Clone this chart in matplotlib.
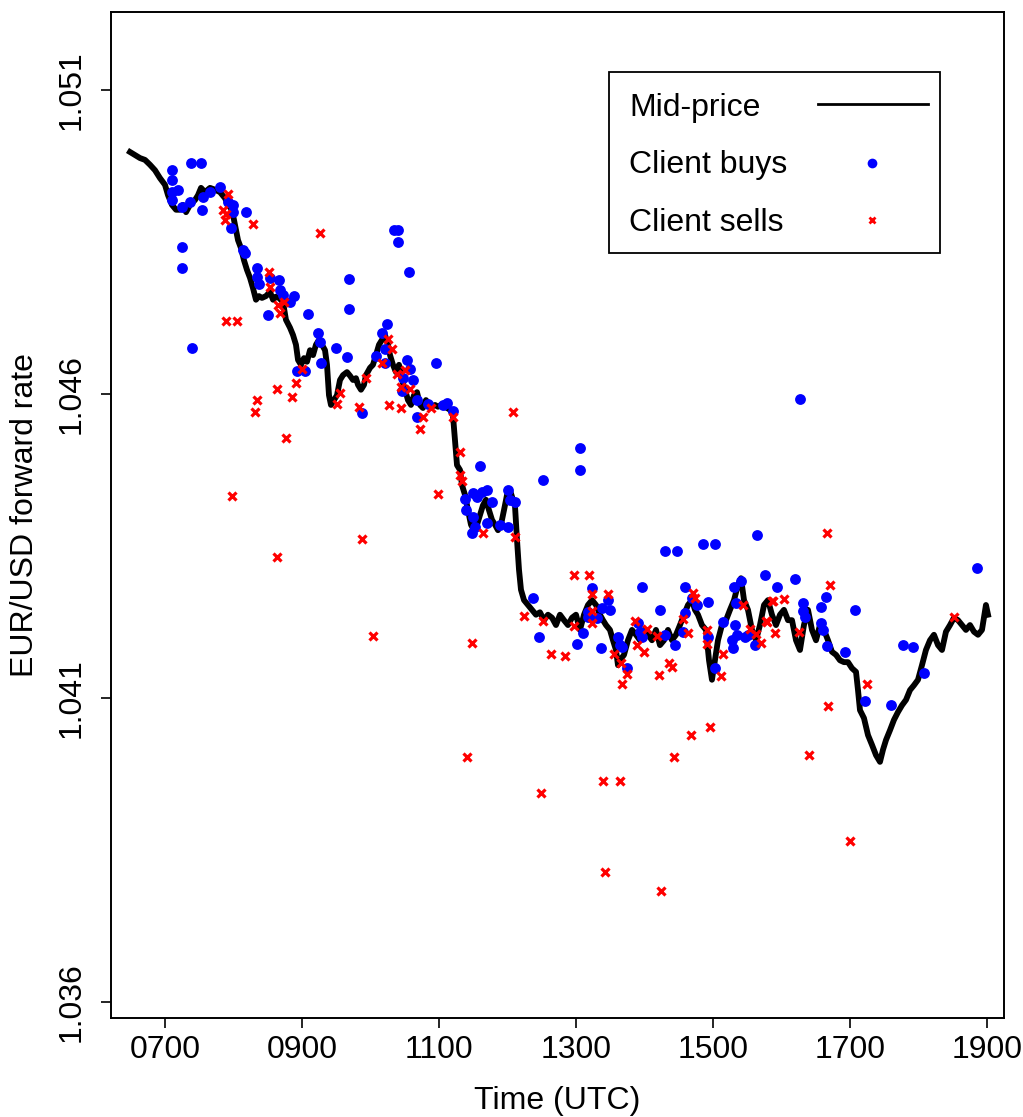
import matplotlib
matplotlib.use('Agg')
import matplotlib.pyplot as plt
from matplotlib.patches import Rectangle

plt.rcParams['font.family'] = ['Liberation Sans', 'DejaVu Sans']

# Mid-price path (time in decimal hours UTC, EUR/USD forward rate)
mid_time = [6.489, 6.562, 6.635, 6.708, 6.781, 6.854, 6.927, 7.000, 7.044, 7.102,
            7.161, 7.219, 7.263, 7.307, 7.365, 7.438, 7.482, 7.526, 7.584, 7.657,
            7.730, 7.803, 7.876, 7.920, 7.978, 8.022, 8.066, 8.109, 8.153, 8.197,
            8.241, 8.285, 8.328, 8.372, 8.416, 8.474, 8.533, 8.577, 8.620, 8.664,
            8.723, 8.766, 8.825, 8.869, 8.912, 8.942, 8.985, 9.029, 9.073, 9.117,
            9.161, 9.204, 9.248, 9.292, 9.336, 9.365, 9.394, 9.423, 9.467, 9.511,
            9.555, 9.599, 9.657, 9.701, 9.745, 9.788, 9.818, 9.861, 9.905, 9.934,
            9.993, 10.036, 10.080, 10.124, 10.168, 10.212, 10.255, 10.285, 10.328, 10.372,
            10.416, 10.460, 10.504, 10.547, 10.591, 10.635, 10.679, 10.723, 10.766, 10.810,
            10.854, 10.898, 10.942, 10.985, 11.029, 11.073, 11.117, 11.161, 11.204, 11.234,
            11.263, 11.307, 11.336, 11.380, 11.423, 11.467, 11.511, 11.555, 11.599, 11.642,
            11.686, 11.730, 11.774, 11.818, 11.861, 11.905, 11.949, 11.993, 12.036, 12.080,
            12.109, 12.139, 12.168, 12.197, 12.241, 12.299, 12.358, 12.416, 12.474, 12.533,
            12.591, 12.650, 12.708, 12.766, 12.825, 12.883, 12.942, 13.000, 13.058, 13.117,
            13.175, 13.234, 13.292, 13.350, 13.394, 13.438, 13.496, 13.540, 13.584, 13.613,
            13.642, 13.701, 13.759, 13.818, 13.876, 13.934, 13.993, 14.051, 14.109, 14.168,
            14.226, 14.285, 14.343, 14.401, 14.460, 14.518, 14.577, 14.635, 14.693, 14.737,
            14.781, 14.839, 14.898, 14.942, 14.985, 15.029, 15.073, 15.131, 15.190, 15.248,
            15.307, 15.365, 15.409, 15.453, 15.511, 15.569, 15.628, 15.686, 15.745, 15.803,
            15.861, 15.920, 15.978, 16.036, 16.095, 16.153, 16.212, 16.270, 16.328, 16.387,
            16.445, 16.504, 16.562, 16.620, 16.679, 16.737, 16.796, 16.854, 16.912, 16.971,
            17.029, 17.088, 17.117, 17.146, 17.204, 17.263, 17.321, 17.380, 17.438, 17.482,
            17.526, 17.584, 17.642, 17.701, 17.759, 17.818, 17.876, 17.934, 17.993, 18.051,
            18.109, 18.168, 18.226, 18.285, 18.343, 18.401, 18.460, 18.518, 18.577, 18.635,
            18.693, 18.752, 18.810, 18.869, 18.927, 18.985, 19.015]
mid_rate = [1.04998, 1.04993, 1.04988, 1.04985, 1.04977, 1.04968, 1.04955, 1.04944, 1.04927, 1.04911,
            1.04903, 1.04903, 1.04911, 1.04899, 1.04911, 1.04919, 1.04927, 1.04939, 1.04932, 1.04939,
            1.04936, 1.04932, 1.04922, 1.04911, 1.04903, 1.04878, 1.04853, 1.04840, 1.04820, 1.04804,
            1.04791, 1.04774, 1.04755, 1.04761, 1.04758, 1.04761, 1.04768, 1.04755, 1.04760, 1.04758,
            1.04751, 1.04722, 1.04709, 1.04697, 1.04681, 1.04656, 1.04648, 1.04659, 1.04653, 1.04672,
            1.04664, 1.04681, 1.04689, 1.04681, 1.04672, 1.04648, 1.04598, 1.04582, 1.04590, 1.04598,
            1.04623, 1.04631, 1.04636, 1.04630, 1.04623, 1.04626, 1.04615, 1.04607, 1.04615, 1.04631,
            1.04643, 1.04648, 1.04664, 1.04681, 1.04689, 1.04697, 1.04681, 1.04664, 1.04648, 1.04636,
            1.04648, 1.04623, 1.04607, 1.04590, 1.04582, 1.04598, 1.04603, 1.04582, 1.04577, 1.04590,
            1.04582, 1.04579, 1.04582, 1.04579, 1.04582, 1.04579, 1.04577, 1.04574, 1.04565, 1.04524,
            1.04483, 1.04475, 1.04450, 1.04434, 1.04409, 1.04385, 1.04376, 1.04385, 1.04401, 1.04417,
            1.04426, 1.04409, 1.04393, 1.04385, 1.04376, 1.04385, 1.04409, 1.04434, 1.04442, 1.04426,
            1.04417, 1.04360, 1.04311, 1.04278, 1.04261, 1.04253, 1.04245, 1.04237, 1.04241, 1.04228,
            1.04237, 1.04232, 1.04220, 1.04237, 1.04228, 1.04220, 1.04232, 1.04237, 1.04212, 1.04237,
            1.04253, 1.04261, 1.04253, 1.04237, 1.04228, 1.04220, 1.04212, 1.04195, 1.04179, 1.04154,
            1.04162, 1.04171, 1.04195, 1.04212, 1.04204, 1.04195, 1.04212, 1.04204, 1.04195, 1.04212,
            1.04187, 1.04195, 1.04212, 1.04195, 1.04204, 1.04220, 1.04237, 1.04253, 1.04261, 1.04245,
            1.04237, 1.04220, 1.04212, 1.04162, 1.04130, 1.04162, 1.04195, 1.04220, 1.04228, 1.04245,
            1.04261, 1.04286, 1.04297, 1.04261, 1.04245, 1.04212, 1.04195, 1.04220, 1.04253, 1.04261,
            1.04237, 1.04220, 1.04237, 1.04245, 1.04228, 1.04228, 1.04195, 1.04179, 1.04220, 1.04245,
            1.04212, 1.04195, 1.04220, 1.04212, 1.04195, 1.04176, 1.04171, 1.04162, 1.04159, 1.04159,
            1.04149, 1.04143, 1.04113, 1.04080, 1.04067, 1.04039, 1.04023, 1.04006, 1.03995, 1.04015,
            1.04031, 1.04047, 1.04064, 1.04077, 1.04088, 1.04097, 1.04113, 1.04121, 1.04130, 1.04154,
            1.04179, 1.04195, 1.04204, 1.04187, 1.04179, 1.04209, 1.04220, 1.04232, 1.04228, 1.04220,
            1.04212, 1.04220, 1.04209, 1.04204, 1.04212, 1.04253, 1.04237]

# Client buys
buy_time = [7.102, 7.102, 7.102, 7.190, 7.102, 7.248, 7.365, 7.555, 7.657, 7.803,
            7.540, 7.920, 7.993, 7.993, 8.182, 7.964, 8.139, 8.168, 7.248, 7.248,
            7.394, 7.380, 7.526, 8.343, 8.343, 8.372, 8.533, 8.664, 8.679, 8.723,
            8.825, 8.883, 9.088, 8.504, 9.234, 9.263, 9.496, 9.657, 9.686, 9.686,
            9.277, 8.927, 9.044, 10.343, 10.401, 10.401, 10.562, 10.241, 10.168, 10.212,
            10.080, 10.212, 10.533, 10.577, 10.620, 10.460, 10.474, 10.679, 10.679, 10.839,
            11.058, 11.117, 11.204, 10.956, 9.876, 11.599, 12.518, 13.058, 13.058, 11.380,
            11.394, 11.496, 11.555, 11.628, 11.701, 11.774, 11.496, 11.526, 11.482, 11.701,
            11.891, 12.007, 12.007, 12.036, 12.109, 12.372, 12.460, 13.234, 13.175, 13.175,
            13.307, 13.380, 13.467, 13.496, 13.102, 13.015, 13.365, 13.613, 13.642, 13.672,
            13.745, 13.905, 13.934, 13.964, 13.964, 14.226, 14.299, 14.445, 14.299, 14.474,
            14.854, 15.029, 15.642, 14.591, 14.591, 14.562, 14.693, 14.766, 14.927, 14.927,
            15.029, 15.146, 15.321, 15.350, 15.277, 15.292, 15.336, 15.307, 15.409, 15.467,
            15.511, 15.613, 15.759, 15.934, 16.197, 16.314, 16.314, 16.343, 16.577, 16.650,
            16.577, 16.606, 16.664, 16.927, 17.073, 17.219, 17.599, 17.774, 17.920, 18.080,
            18.854, 16.270]
buy_rate = [1.04968, 1.04952, 1.04932, 1.04936, 1.04919, 1.04908, 1.04916, 1.04924, 1.04932, 1.04940,
            1.04903, 1.04916, 1.04911, 1.04899, 1.04899, 1.04873, 1.04837, 1.04832, 1.04842, 1.04807,
            1.04676, 1.04980, 1.04980, 1.04807, 1.04792, 1.04781, 1.04791, 1.04788, 1.04771, 1.04763,
            1.04751, 1.04761, 1.04732, 1.04730, 1.04700, 1.04686, 1.04676, 1.04661, 1.04789, 1.04740,
            1.04651, 1.04638, 1.04638, 1.04870, 1.04870, 1.04850, 1.04801, 1.04715, 1.04700, 1.04674,
            1.04662, 1.04651, 1.04656, 1.04641, 1.04623, 1.04605, 1.04626, 1.04590, 1.04562, 1.04584,
            1.04582, 1.04585, 1.04572, 1.04651, 1.04569, 1.04482, 1.04459, 1.04511, 1.04475, 1.04427,
            1.04409, 1.04437, 1.04431, 1.04439, 1.04442, 1.04422, 1.04398, 1.04381, 1.04371, 1.04388,
            1.04385, 1.04381, 1.04442, 1.04426, 1.04422, 1.04264, 1.04200, 1.04281, 1.04241, 1.04233,
            1.04232, 1.04248, 1.04261, 1.04245, 1.04207, 1.04189, 1.04182, 1.04200, 1.04187, 1.04184,
            1.04149, 1.04223, 1.04209, 1.04200, 1.04283, 1.04245, 1.04204, 1.04187, 1.04342, 1.04342,
            1.04353, 1.04353, 1.04368, 1.04283, 1.04240, 1.04209, 1.04264, 1.04253, 1.04258, 1.04200,
            1.04149, 1.04225, 1.04220, 1.04204, 1.04195, 1.04182, 1.04256, 1.04283, 1.04292, 1.04200,
            1.04204, 1.04187, 1.04302, 1.04283, 1.04296, 1.04256, 1.04243, 1.04233, 1.04250, 1.04266,
            1.04223, 1.04212, 1.04186, 1.04176, 1.04245, 1.04095, 1.04089, 1.04187, 1.04184, 1.04141,
            1.04314, 1.04592]

# Client sells
sell_time = [7.920, 7.847, 7.891, 7.876, 8.285, 9.263, 7.891, 8.051, 8.518, 8.533,
             8.650, 8.679, 8.737, 9.000, 8.343, 8.314, 8.635, 8.854, 8.912, 8.766,
             7.978, 8.635, 9.555, 9.511, 9.832, 9.934, 10.168, 10.255, 10.314, 10.387,
             10.504, 10.270, 10.445, 10.445, 10.577, 10.723, 10.766, 10.883, 11.204, 12.080,
             11.307, 11.307, 11.336, 9.876, 10.036, 11.482, 10.985, 11.642, 12.109, 12.971,
             13.190, 12.241, 12.518, 12.971, 13.234, 13.234, 13.234, 13.467, 13.861, 14.036,
             14.182, 14.562, 13.891, 12.839, 12.635, 13.555, 13.657, 13.745, 13.672, 13.993,
             14.212, 14.358, 14.401, 14.635, 14.708, 14.737, 14.912, 14.912, 15.146, 15.117,
             15.438, 15.540, 15.628, 15.701, 15.788, 15.861, 15.905, 16.036, 16.255, 14.679,
             14.956, 14.431, 16.401, 11.409, 12.489, 13.394, 13.642, 13.423, 14.241, 16.679,
             17.000, 17.248, 16.664, 16.708, 15.876, 15.774, 18.518]
sell_rate = [1.04929, 1.04903, 1.04896, 1.04886, 1.04880, 1.04865, 1.04720, 1.04720, 1.04801, 1.04776,
             1.04746, 1.04733, 1.04751, 1.04641, 1.04590, 1.04570, 1.04608, 1.04595, 1.04618, 1.04528,
             1.04432, 1.04332, 1.04602, 1.04584, 1.04579, 1.04626, 1.04651, 1.04690, 1.04674, 1.04633,
             1.04639, 1.04582, 1.04612, 1.04577, 1.04608, 1.04542, 1.04562, 1.04577, 1.04562, 1.04570,
             1.04505, 1.04467, 1.04457, 1.04362, 1.04202, 1.04190, 1.04436, 1.04371, 1.04365, 1.04302,
             1.04302, 1.04235, 1.04227, 1.04218, 1.04271, 1.04243, 1.04223, 1.04271, 1.04227, 1.04214,
             1.04202, 1.04230, 1.04187, 1.04169, 1.04172, 1.04172, 1.04158, 1.04140, 1.04123, 1.04176,
             1.04138, 1.04158, 1.04151, 1.04207, 1.04273, 1.04264, 1.04212, 1.04189, 1.04172, 1.04136,
             1.04253, 1.04214, 1.04205, 1.04190, 1.04225, 1.04260, 1.04207, 1.04263, 1.04209, 1.04039,
             1.04052, 1.04003, 1.04006, 1.04003, 1.03944, 1.03964, 1.03964, 1.03814, 1.03783, 1.04087,
             1.03865, 1.04123, 1.04371, 1.04286, 1.04260, 1.04227, 1.04233]

x_ticks = [7, 9, 11, 13, 15, 17, 19]
x_labels = ['0700', '0900', '1100', '1300', '1500', '1700', '1900']
y_ticks = [1.036, 1.041, 1.046, 1.051]
y_labels = ['1.036', '1.041', '1.046', '1.051']

fig = plt.figure(figsize=(10.23, 11.17), dpi=100)
ax = fig.add_axes([0.1085, 0.0886, 0.8729, 0.9007])

ax.plot(mid_time, mid_rate, color='black', lw=4.2, zorder=2)
ax.plot(buy_time, buy_rate, 'o', color='#0000ff', ms=7.8, mew=0, zorder=3)
ax.plot(sell_time, sell_rate, 'x', color='#ff0000', ms=6, mew=2.3, zorder=4)

ax.set_xlim(6.2117, 19.248)
ax.set_ylim(1.035737, 1.052283)
ax.set_xticks(x_ticks)
ax.set_xticklabels(x_labels)
ax.set_yticks(y_ticks)
ax.set_yticklabels(y_labels, rotation=90, va='center')
ax.tick_params(axis='both', labelsize=23, length=7.5, width=1.2, direction='out')
ax.tick_params(axis='x', pad=5)
ax.tick_params(axis='y', pad=10)
for s in ax.spines.values():
    s.set_linewidth(1.4)

ax.set_xlabel('Time (UTC)', fontsize=23, labelpad=15)
ax.set_ylabel('EUR/USD forward rate', fontsize=23, labelpad=12)

# legend drawn R-style: text left, symbols on the right
ax.add_patch(Rectangle((0.5577, 0.7604), 0.3706, 0.18, transform=ax.transAxes,
                       fill=False, edgecolor='black', lw=1.3, zorder=5))
ax.text(0.5801, 0.8966, 'Mid-price', transform=ax.transAxes, fontsize=23, va='baseline')
ax.text(0.5801, 0.8400, 'Client buys', transform=ax.transAxes, fontsize=23, va='baseline')
ax.text(0.5801, 0.7823, 'Client sells', transform=ax.transAxes, fontsize=23, va='baseline')
ax.plot([0.7917, 0.9149], [0.9089, 0.9089], color='black', lw=2, transform=ax.transAxes)
ax.plot([0.8522], [0.8499], 'o', color='#0000ff', ms=7, mew=0, transform=ax.transAxes)
ax.plot([0.8522], [0.7932], 'x', color='#ff0000', ms=4.8, mew=2, transform=ax.transAxes)

fig.savefig('out.png', dpi=100)
